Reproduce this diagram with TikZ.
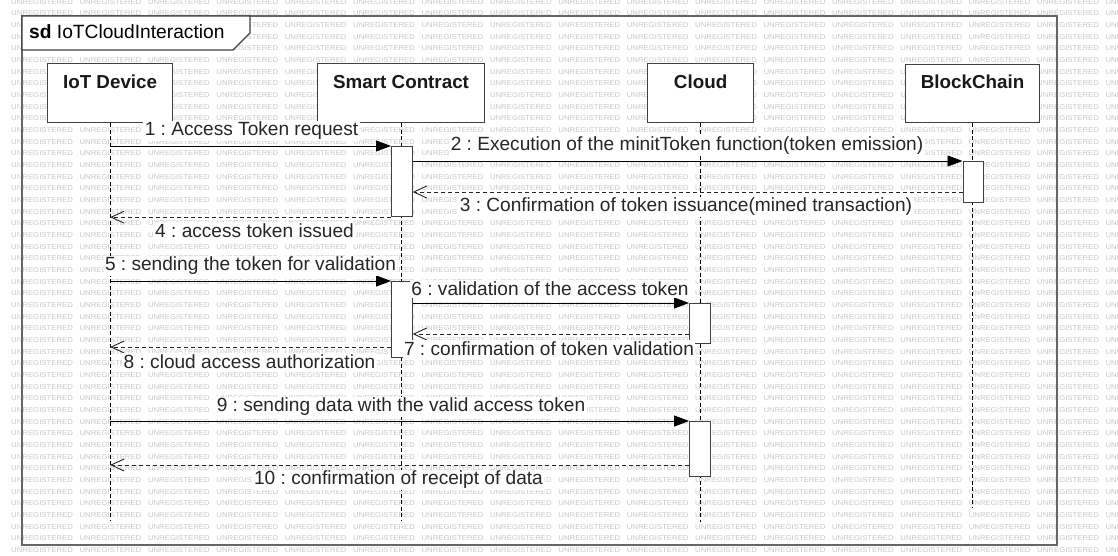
\documentclass[tikz,border=0pt]{standalone}
\usepackage{fontspec}
\setmainfont{Liberation Sans}
\usetikzlibrary{arrows.meta}
\frenchspacing
\begin{document}
\begin{tikzpicture}[x=1pt,y=-1pt,
  wm/.style={font=\fontsize{7}{7}\selectfont, text=black!22, xscale=1.11, inner sep=0pt, anchor=west},
  frameline/.style={draw=black!60, line width=1.6pt},
  titlebox/.style={draw=black!75, line width=1.1pt, fill=white},
  head/.style={draw=black!75, line width=1.2pt, fill=white, inner sep=0pt, anchor=north west},
  headtext/.style={font=\bfseries\fontsize{18.8}{22}\selectfont, text=black!90, inner sep=0pt},
  life/.style={draw=black, line width=0.9pt, dash pattern=on 4pt off 2.5pt},
  actbox/.style={draw=black!75, line width=1.2pt, fill=white, inner sep=0pt, anchor=north west, minimum width=20.5pt},
  callmsg/.style={draw=black, line width=0.9pt, -{Triangle[length=15pt,width=11pt]}},
  replymsg/.style={draw=black!85, line width=0.9pt, dash pattern=on 4pt off 3pt, -{Straight Barb[length=13pt,width=12pt]}},
  msglabel/.style={font=\fontsize{19.1}{22}\selectfont, text=black!85, fill=white, inner sep=1.5pt},
]
\useasboundingbox (0,0) rectangle (1118,556);

% background watermark tiling
\foreach \r in {0,...,47}{
  \foreach \c in {0,...,16}{
    \node[wm] (wm-\r-\c) at ({11+68.4*\c},{1.9+11.66*\r}) {UNREGISTERED};
  }
}

% diagram frame and its title tab
\draw[frameline] (22,16) rectangle (1057,545);
\draw[titlebox] (22,16) -- (250,16) -- (250,33) -- (233,50) -- (22,50) -- cycle;
\node[anchor=west, inner sep=0pt, font=\fontsize{19.2}{22}\selectfont] (title) at (29,32) {\textbf{sd} IoTCloudInteraction};

% lifeline heads
\node[head, minimum width=125pt, minimum height=59pt] (iot) at (47,63) {};
\node[head, minimum width=167pt, minimum height=59pt] (sc) at (317,63) {};
\node[head, minimum width=106pt, minimum height=59pt] (cloud) at (647,63) {};
\node[head, minimum width=134pt, minimum height=58pt] (bc) at (905,64) {};
\node[headtext] (iotname) at (iot.center |- 0,82) {IoT Device};
\node[headtext] (scname) at (sc.center |- 0,82) {Smart Contract};
\node[headtext] (cloudname) at (cloud.center |- 0,82) {Cloud};
\node[headtext] (bcname) at (bc.center |- 0,82) {BlockChain};

% lifeline ends
\coordinate (iotend) at (iot.south |- 0,520);
\coordinate (scend) at (sc.south |- 0,521);
\coordinate (cloudend) at (cloud.south |- 0,522);
\coordinate (bcend) at (bc.south |- 0,508);
\draw[life] (iot.south) -- (iotend);
\draw[life] (sc.south) -- (scend);
\draw[life] (cloud.south) -- (cloudend);
\draw[life] (bc.south) -- (bcend);

% activation bars
\node[actbox, minimum height=70pt] (a1) at (391,146) {};
\node[actbox, minimum height=41pt] (b1) at (962.5,161) {};
\node[actbox, minimum height=76pt] (a2) at (391,281) {};
\node[actbox, minimum height=40pt] (c1) at (689,303) {};
\node[actbox, minimum height=55pt] (c2) at (689,421) {};

% message levels
\coordinate (m3) at (962.5,192);
\coordinate (m7) at (689,334);
\coordinate (m8) at (391,347);
\coordinate (m10) at (689,465);

% messages
\draw[callmsg] (a1.north west -| iot.south) -- (a1.north west);
\draw[callmsg] (b1.north west -| a1.east) -- (b1.north west);
\draw[replymsg] (m3) -- (m3 -| a1.east);
\draw[replymsg] (a1.south west) -- (a1.south west -| iot.south);
\draw[callmsg] (a2.north west -| iot.south) -- (a2.north west);
\draw[callmsg] (c1.north west -| a2.east) -- (c1.north west);
\draw[replymsg] (m7) -- (m7 -| a2.east);
\draw[replymsg] (m8) -- (m8 -| iot.south);
\draw[callmsg] (c2.north west -| iot.south) -- (c2.north west);
\draw[replymsg] (m10) -- (m10 -| iot.south);

% message labels
\node[msglabel] (l1) at (251.5,131) {1 : Access Token request};
\node[msglabel] (l2) at (687,146) {2 : Execution of the minitToken function(token emission)};
\node[msglabel] (l3) at (686,207) {3 : Confirmation of token issuance(mined transaction)};
\node[msglabel] (l4) at (254.5,231) {4 : access token issued};
\node[msglabel] (l5) at (250.5,266) {5 : sending the token for validation};
\node[msglabel] (l6) at (550,289) {6 : validation of the access token};
\node[msglabel] (l7) at (549,349) {7 : confirmation of token validation};
\node[msglabel] (l8) at (249.5,362) {8 : cloud access authorization};
\node[msglabel] (l9) at (401,407) {9 : sending data with the valid access token};
\node[msglabel] (l10) at (398.5,480) {10 : confirmation of receipt of data};
\end{tikzpicture}
\end{document}
